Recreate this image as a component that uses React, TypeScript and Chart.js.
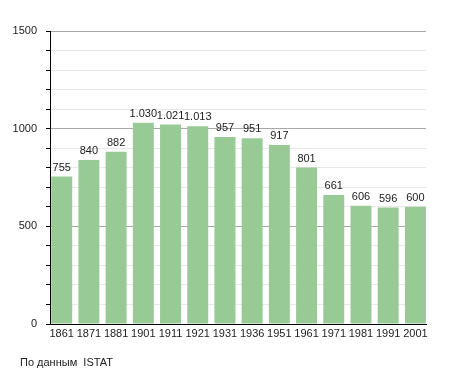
import React, { useEffect, useRef } from "react";
import { Chart, registerables } from "chart.js";

Chart.register(...registerables);

const years = ["1861", "1871", "1881", "1901", "1911", "1921", "1931", "1936", "1951", "1961", "1971", "1981", "1991", "2001"];
const population = [755, 840, 882, 1030, 1021, 1013, 957, 951, 917, 801, 661, 606, 596, 600];
const yTickLabels = [0, 500, 1000, 1500];
const sourceNote = "По данным  ISTAT";

const FONT = "'Liberation Sans', Arial, sans-serif";

function fmt(v: number): string {
  const s = String(Math.round(v));
  return s.replace(/\B(?=(\d{3})+(?!\d))/g, ".");
}

const labelsPlugin = {
  id: "valueLabels",
  afterDatasetsDraw(chart: any) {
    const ctx = chart.ctx;
    const meta = chart.getDatasetMeta(0);
    ctx.save();
    ctx.font = `11px ${FONT}`;
    ctx.fillStyle = "#222";
    ctx.textAlign = "center";
    ctx.textBaseline = "alphabetic";
    meta.data.forEach((bar: any, i: number) => {
      ctx.fillText(fmt(population[i]), bar.x, bar.y - 6);
    });
    ctx.textAlign = "left";
    ctx.fillText(sourceNote, 20, 366);
    ctx.restore();
  },
};

export default function App() {
  const ref = useRef<HTMLCanvasElement | null>(null);
  useEffect(() => {
    if (!ref.current) return;
    const chart = new Chart(ref.current, {
      type: "bar",
      data: {
        labels: years,
        datasets: [
          {
            data: population,
            backgroundColor: "#97ca95",
            borderWidth: 0,
            categoryPercentage: 1,
            barPercentage: 0.77,
          },
        ],
      },
      options: {
        animation: false,
        responsive: false,
        maintainAspectRatio: false,
        layout: { padding: { top: 31, right: 29, bottom: 0, left: 0 } },
        plugins: { legend: { display: false }, tooltip: { enabled: false }, title: { display: false } },
        scales: {
          x: {
            offset: false,
            grid: { display: false, drawTicks: false },
            border: { display: true, color: "#000", width: 1 },
            ticks: { color: "#222", font: { family: FONT, size: 11 }, padding: 3, maxRotation: 0, autoSkip: false },
            afterBuildTicks: (s: any) => {
              s._startValue = -0.43;
              s._valueRange = years.length - 1 + 0.82;
            },
            afterFit: (s: any) => { s.height = 49; },
          },
          y: {
            min: 0,
            max: 1500,
            ticks: {
              stepSize: 100,
              color: "#222",
              font: { family: FONT, size: 11 },
              padding: 9,
              callback: (v: any) => (yTickLabels.includes(Number(v)) ? String(v) : ""),
            },
            grid: {
              color: (c: any) => (c.tick && c.tick.value % 500 === 0 ? "#a8a8a8" : "#e8e8e8"),
              tickColor: "#000",
              tickLength: 4,
              drawTicks: true,
            },
            border: { display: true, color: "#000", width: 1 },
            afterFit: (s: any) => { s.width = 50; },
          },
        },
      },
      plugins: [labelsPlugin],
    });
    return () => chart.destroy();
  }, []);
  return (
    <div style={{ position: "fixed", left: 0, top: 0, width: 455, height: 373, background: "#fff" }}>
      <canvas ref={ref} width={455} height={373} style={{ width: 455, height: 373 }} />
    </div>
  );
}
